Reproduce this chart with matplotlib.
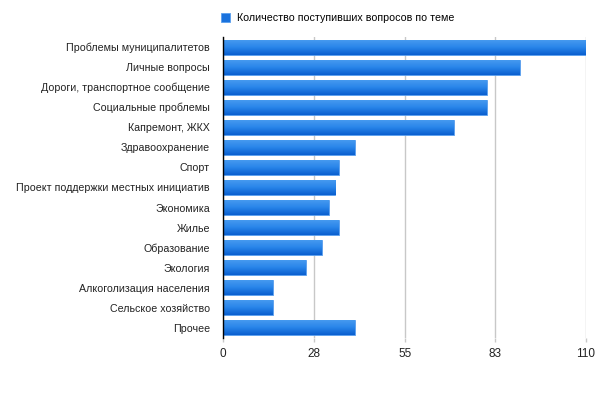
import numpy as np
import matplotlib.pyplot as plt
from matplotlib.colors import LinearSegmentedColormap

plt.rcParams['font.family'] = ['Liberation Sans', 'DejaVu Sans']

# Data
categories = [
    "Проблемы муниципалитетов",
    "Личные вопросы",
    "Дороги, транспортное сообщение",
    "Социальные проблемы",
    "Капремонт, ЖКХ",
    "Здравоохранение",
    "Спорт",
    "Проект поддержки местных инициатив",
    "Экономика",
    "Жилье",
    "Образование",
    "Экология",
    "Алкоголизация населения",
    "Сельское хозяйство",
    "Прочее",
]
values = [110, 90, 80, 80, 70, 40, 35, 34, 32, 35, 30, 25, 15, 15, 40]
tick_values = [0, 27.5, 55, 82.5, 110]
tick_labels = ["0", "28", "55", "83", "110"]
series_name = "Количество поступивших вопросов по теме"

fig = plt.figure(figsize=(6, 4.12), dpi=100)
ax = fig.add_axes([223.3 / 600, 1 - 338 / 412, (586 - 223.3) / 600, (338 - 37) / 412])

y = np.arange(len(categories))
bars = ax.barh(y, values, height=0.75, color='#1a72dd', edgecolor='#5aa0ef',
               linewidth=0.6, zorder=3, label=series_name)

# gradient fill on each bar (lighter top, darker bottom)
cmap = LinearSegmentedColormap.from_list('blu', ['#0a5fcf', '#2a86ea', '#4a9cf0'])
grad = np.linspace(0, 1, 64).reshape(-1, 1)
for b in bars:
    x0, y0 = b.get_x(), b.get_y()
    w, h = b.get_width(), b.get_height()
    im = ax.imshow(grad, cmap=cmap, aspect='auto', origin='upper',
                   extent=[x0, x0 + w, y0, y0 + h], zorder=3.5)
    im.set_clip_path(b)

ax.set_xlim(0, 110)
ax.set_ylim(len(categories) - 0.5, -0.5)
ax.set_yticks(y)
ax.set_yticklabels(categories, fontsize=7.65, color='#222222')
ax.set_xticks(tick_values)
ax.set_xticklabels(tick_labels, fontsize=8.5, color='#222222')
ax.tick_params(axis='y', length=0, pad=9.5)
ax.tick_params(axis='x', length=3, color='#c8c8c8', width=1, pad=4)

ax.grid(axis='x', color='#c8c8c8', linewidth=1, zorder=0)
for s in ['top', 'right', 'bottom']:
    ax.spines[s].set_visible(False)
ax.spines['left'].set_color('black')
ax.spines['left'].set_linewidth(1)
ax.spines['left'].set_zorder(5)

leg = fig.legend(handles=[bars], labels=[series_name], loc='upper left',
                 bbox_to_anchor=(217 / 600, 1 - 9 / 412), frameon=False,
                 fontsize=7.65, handlelength=0.8, handleheight=0.8,
                 handletextpad=0.7, borderaxespad=0)

fig.savefig('out.png', dpi=100)
